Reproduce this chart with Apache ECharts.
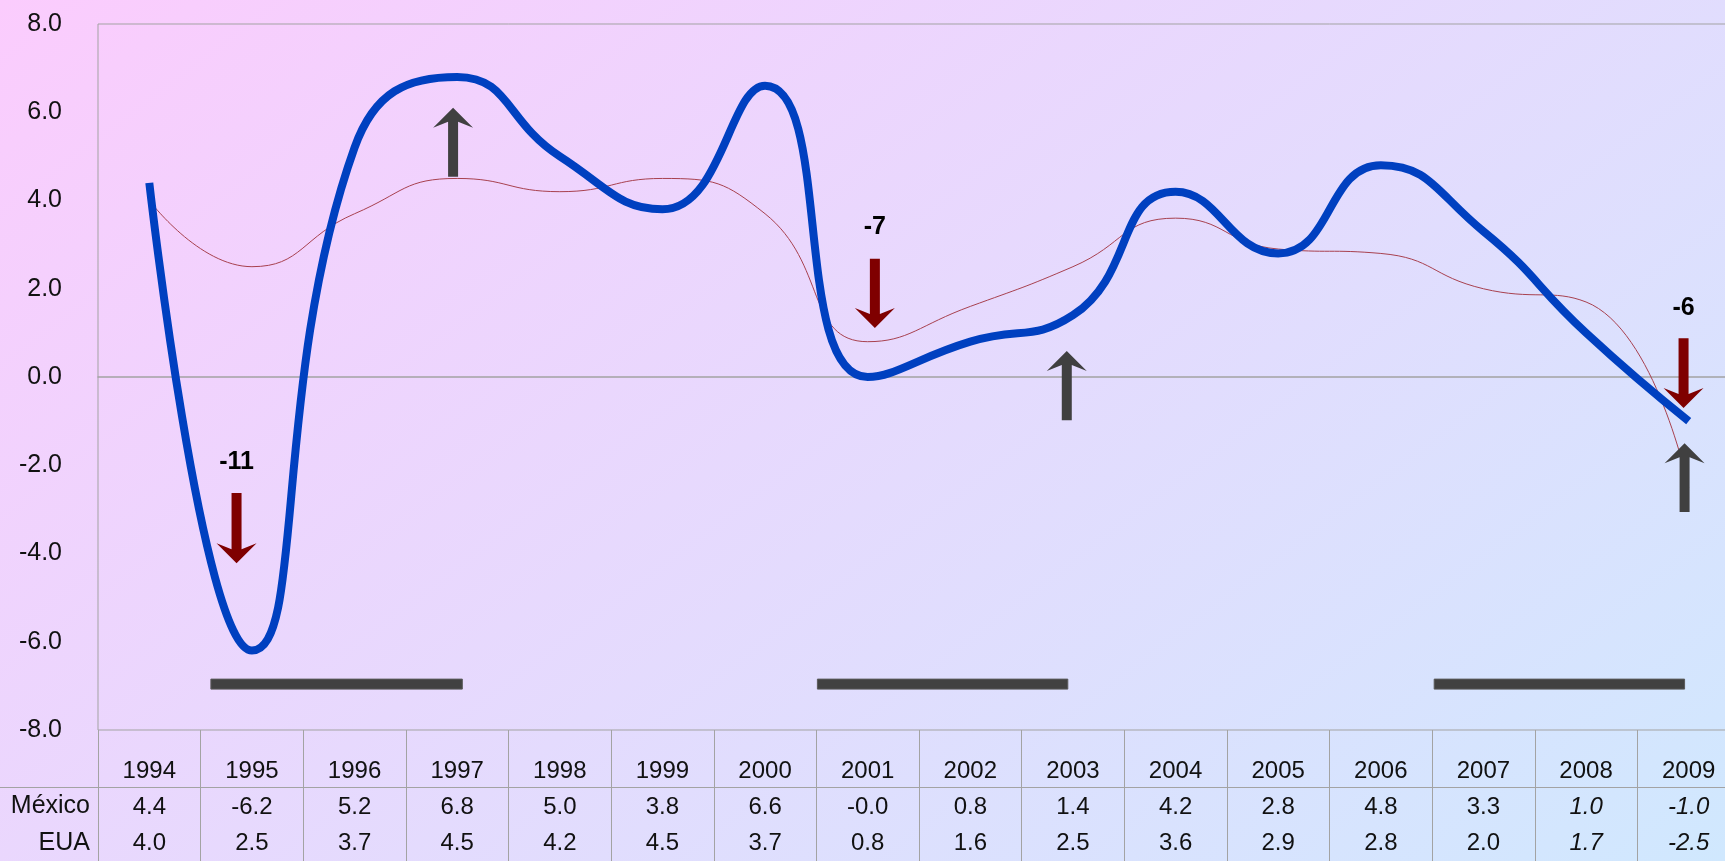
<!DOCTYPE html>
<html>
<head>
<meta charset="utf-8">
<title>Crecimiento del PIB: México y EUA, 1994-2009</title>
<script src="https://cdn.jsdelivr.net/npm/echarts@6/dist/echarts.min.js"></script>
<style>
  html, body { margin: 0; padding: 0; overflow: hidden; width: 1725px; height: 861px; }
  /* the plot runs a little past the right edge of the window */
  #chart { width: 1740px; height: 861px; }
</style>
</head>
<body>
<div id="chart"></div>
<script>
// ---- data ----
const years = ['1994', '1995', '1996', '1997', '1998', '1999', '2000', '2001',
               '2002', '2003', '2004', '2005', '2006', '2007', '2008', '2009'];
const mexico = [4.4, -6.2, 5.2, 6.8, 5.0, 3.8, 6.6, -0.0, 0.8, 1.4, 4.2, 2.8, 4.8, 3.3, 1.0, -1.0];
const eua    = [4.0, 2.5, 3.7, 4.5, 4.2, 4.5, 3.7, 0.8, 1.6, 2.5, 3.6, 2.9, 2.8, 2.0, 1.7, -2.5];
const estimatedYears = ['2008', '2009'];      // shown in italics in the table
const yMin = -8, yMax = 8, yStep = 2;
const rowNames = ['México', 'EUA'];
const dropYears = ['1995', '2001', '2009'];
const dropTexts = ['-11', '-7', '-6'];
const riseYears = ['1997', '2003', '2009'];

// ---- annotation placement (value units / category fractions) ----
const dropLayout = [
  { dx: -0.15, textY: -1.93, tail: -2.63, tip: -4.22 },
  { dx:  0.07, textY:  3.39, tail:  2.68, tip:  1.11 },
  { dx: -0.05, textY:  1.56, tail:  0.88, tip: -0.70 }
];
const riseLayout = [
  { dx: -0.04, tail:  4.54, tip:  6.10 },
  { dx: -0.06, tail: -0.98, tip:  0.59 },
  { dx: -0.04, tail: -3.06, tip: -1.50 }
];
const spanLayout = [            // [first category pos, last category pos, value]
  [0.60, 3.05, -6.96],
  [6.51, 8.95, -6.96],
  [12.52, 14.96, -6.96]
];

const FONT = '"Liberation Sans", Arial, sans-serif';
const GRID_COLOR = '#a3a3a3';
const TEXT_COLOR = '#111';

function fmt(v) {
  return Object.is(v, -0) ? '-0.0' : v.toFixed(1);
}

function arrowPoints(x, yTail, yTip) {
  const dir = yTip > yTail ? 1 : -1;
  const s = 5, hw = 20, hl = 20, notch = 14;
  return [
    [x - s, yTail], [x + s, yTail],
    [x + s, yTip - dir * notch], [x + hw, yTip - dir * hl],
    [x, yTip],
    [x - hw, yTip - dir * hl], [x - s, yTip - dir * notch]
  ];
}

function catX(api, pos) {
  const band = api.size([1, 0])[0];
  return api.coord([0, 0])[0] + pos * band;
}

function arrowSeries(name, yearsList, layout, color, texts) {
  return {
    name: name,
    type: 'custom',
    coordinateSystem: 'cartesian2d',
    z: 5,
    silent: true,
    encode: { x: 0, y: 1 },
    data: yearsList.map((yr, i) => [years.indexOf(yr), 0, layout[i].dx, layout[i].tail, layout[i].tip,
                                     layout[i].textY === undefined ? 0 : layout[i].textY, i]),
    renderItem: function (params, api) {
      const idx = api.value(0);
      const x = catX(api, idx + api.value(2));
      const yTail = api.coord([0, api.value(3)])[1];
      const yTip = api.coord([0, api.value(4)])[1];
      const children = [{
        type: 'polygon',
        shape: { points: arrowPoints(x, yTail, yTip) },
        style: { fill: color }
      }];
      if (texts) {
        children.push({
          type: 'text',
          style: {
            x: x, y: api.coord([0, api.value(5)])[1],
            text: texts[api.value(6)],
            font: 'bold 25px ' + FONT,
            fill: '#000',
            align: 'center', verticalAlign: 'middle'
          }
        });
      }
      return { type: 'group', children: children };
    }
  };
}

const chart = echarts.init(document.getElementById('chart'), null, { renderer: 'canvas' });

const option = {
  animation: false,
  backgroundColor: new echarts.graphic.LinearGradient(0, 0, 0.6, 1.6, [
    { offset: 0, color: '#fbccfd' },
    { offset: 1, color: '#d0e8fe' }
  ]),
  grid: {
    left: 98, top: 24, right: 0, bottom: 131,
    show: true, borderColor: GRID_COLOR, borderWidth: 1,
    backgroundColor: 'transparent'
  },
  xAxis: [{
    type: 'category',
    data: years,
    boundaryGap: true,
    position: 'bottom',
    axisLine: { show: false, onZero: false },
    axisTick: { show: true, interval: 0, length: 131, lineStyle: { color: GRID_COLOR, width: 1 } },
    axisLabel: {
      interval: 0,
      margin: 23,
      formatter: function (value, index) {
        const k = estimatedYears.indexOf(value) >= 0 ? 'vi' : 'v';
        return '{y|' + value + '}\n{' + k + '|' + fmt(mexico[index]) + '}\n{' + k + '|' + fmt(eua[index]) + '}';
      },
      rich: {
        y:  { fontFamily: FONT, fontSize: 24, lineHeight: 36, color: TEXT_COLOR },
        v:  { fontFamily: FONT, fontSize: 24, lineHeight: 36, color: TEXT_COLOR },
        vi: { fontFamily: FONT, fontSize: 24, lineHeight: 36, color: TEXT_COLOR, fontStyle: 'italic' }
      }
    },
    splitLine: { show: false }
  }, {
    // zero line across the plot
    type: 'category',
    data: years,
    position: 'bottom',
    axisLine: { show: true, onZero: true, lineStyle: { color: GRID_COLOR, width: 1.5 } },
    axisTick: { show: false },
    axisLabel: { show: false },
    splitLine: { show: false }
  }],
  yAxis: {
    type: 'value',
    min: yMin, max: yMax, interval: yStep,
    axisLine: { show: false },
    axisTick: { show: false },
    splitLine: { show: false },
    axisLabel: {
      margin: 36,
      fontFamily: FONT, fontSize: 25, color: TEXT_COLOR,
      formatter: function (v) { return v.toFixed(1); }
    }
  },
  graphic: [
    { type: 'line', silent: true, shape: { x1: 0, y1: 787.5, x2: 1740, y2: 787.5 },
      style: { stroke: GRID_COLOR, lineWidth: 1 } },
    { type: 'text', x: 90, y: 806, silent: true,
      style: { text: rowNames[0], font: '25px ' + FONT, fill: TEXT_COLOR, align: 'right', verticalAlign: 'middle' } },
    { type: 'text', x: 90, y: 843, silent: true,
      style: { text: rowNames[1], font: '25px ' + FONT, fill: TEXT_COLOR, align: 'right', verticalAlign: 'middle' } }
  ],
  series: [
    {
      name: 'EUA',
      type: 'line',
      data: eua,
      smooth: true,
      symbol: 'none',
      z: 2,
      lineStyle: { color: '#a8414f', width: 1 }
    },
    {
      name: 'México',
      type: 'line',
      data: mexico,
      smooth: true,
      symbol: 'none',
      z: 3,
      lineStyle: { color: '#0040c0', width: 8, cap: 'butt', join: 'round' }
    },
    {
      name: 'periodos',
      type: 'custom',
      coordinateSystem: 'cartesian2d',
      z: 4,
      silent: true,
      encode: { x: 0, y: 1 },
      data: spanLayout.map(s => [0, 0, s[0], s[1], s[2]]),
      renderItem: function (params, api) {
        const x0 = catX(api, api.value(2));
        const x1 = catX(api, api.value(3));
        const y = api.coord([0, api.value(4)])[1];
        return {
          type: 'rect',
          shape: { x: x0, y: y - 5, width: x1 - x0, height: 10 },
          style: { fill: '#414141', stroke: '#5a5a5a', lineWidth: 1 }
        };
      }
    },
    arrowSeries('caidas', dropYears, dropLayout, '#7f0000', dropTexts),
    arrowSeries('alzas', riseYears, riseLayout, '#404040', null)
  ]
};

chart.setOption(option);
</script>
</body>
</html>
